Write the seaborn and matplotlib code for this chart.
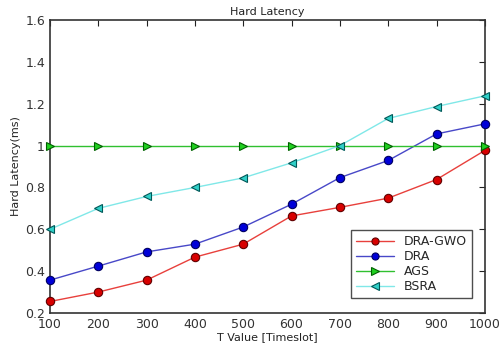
import pandas as pd
import numpy as np
import seaborn as sns
import matplotlib
matplotlib.use("Agg")
import matplotlib.pyplot as plt
from matplotlib.ticker import FuncFormatter

# datos
t_vals = [100, 200, 300, 400, 500, 600, 700, 800, 900, 1000]
dra_gwo = [0.255, 0.30, 0.357, 0.467, 0.529, 0.664, 0.705, 0.749, 0.838, 0.977]
dra = [0.357, 0.424, 0.492, 0.529, 0.611, 0.72, 0.847, 0.929, 1.056, 1.104]
ags = [1.0, 1.0, 1.0, 1.0, 1.0, 1.0, 1.0, 1.0, 1.0, 1.0]
bsra = [0.60, 0.70, 0.757, 0.80, 0.846, 0.918, 1.0, 1.13, 1.187, 1.238]

series = {"DRA-GWO": dra_gwo, "DRA": dra, "AGS": ags, "BSRA": bsra}
df = pd.DataFrame({"T": t_vals * 4,
                   "lat": dra_gwo + dra + ags + bsra,
                   "metodo": [k for k in series for _ in t_vals]})

sns.set_style("white")
plt.rcParams['font.family'] = ['DejaVu Sans']

estilos = {
    "DRA-GWO": dict(color="#e8403c", marker="o", mfc="#d80000", mec="#600000"),
    "DRA": dict(color="#4848c8", marker="o", mfc="#0000d8", mec="#000060"),
    "AGS": dict(color="#30c030", marker=">", mfc="#20d020", mec="#006000"),
    "BSRA": dict(color="#80e8e8", marker="<", mfc="#30d0c8", mec="#005858"),
}

fig = plt.figure(figsize=(5.04, 3.47), dpi=100)
ax = fig.add_axes([0.099, 0.098, 0.863, 0.844])

for nombre in series:
    e = estilos[nombre]
    sns.lineplot(data=df[df["metodo"] == nombre], x="T", y="lat", ax=ax,
                 color=e["color"], marker=e["marker"], markersize=6,
                 markerfacecolor=e["mfc"], markeredgecolor=e["mec"],
                 markeredgewidth=0.8, linewidth=1.0, label=nombre,
                 clip_on=False, zorder=3)

ax.set_xlim(100, 1000)
ax.set_ylim(0.2, 1.6)
ax.set_xticks(t_vals)
ax.set_yticks([0.2, 0.4, 0.6, 0.8, 1.0, 1.2, 1.4, 1.6])
ax.yaxis.set_major_formatter(FuncFormatter(lambda v, p: "%g" % v))
ax.tick_params(direction="in", top=True, right=True, length=4, width=0.8,
               labelsize=9, colors="#222222", labelcolor="#333333")
for s in ax.spines.values():
    s.set_color("#333333")
    s.set_linewidth(1.2)
ax.set_xlabel("T Value [Timeslot]", fontsize=8, color="#222222", labelpad=1)
ax.set_ylabel("Hard Latency(ms)", fontsize=8, color="#222222", labelpad=3)
ax.set_title("Hard Latency", fontsize=8, color="#222222", pad=4)

leg = ax.legend(loc="lower right", fontsize=9, frameon=True, fancybox=False,
                borderpad=0.4, labelspacing=0.15, handlelength=3.0,
                markerscale=0.85, bbox_to_anchor=(0.985, 0.03))
leg.get_frame().set_edgecolor("#222222")
leg.get_frame().set_linewidth(1.0)
leg.set_zorder(5)

fig.savefig("out.png", dpi=100)
